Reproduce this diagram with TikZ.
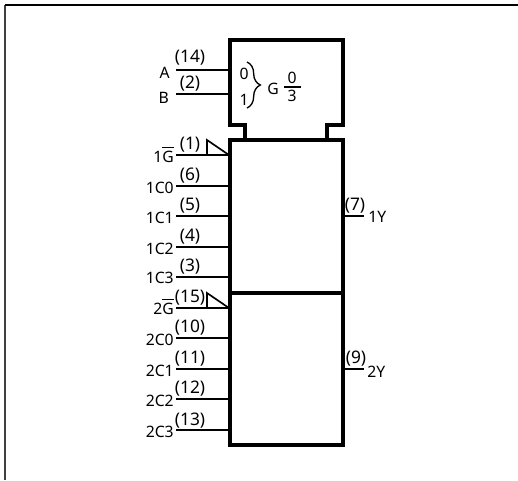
\documentclass[tikz,border=0pt]{standalone}
\usepackage{fontspec}
\setmainfont{Noto Sans}
\usetikzlibrary{decorations.pathreplacing}
\tikzstyle{chipline} = [draw, line width=3pt]
\tikzstyle{pinline} = [draw, line width=1.25pt]
\tikzstyle{pinname} = [font=\fontsize{11.8}{12}\selectfont, inner sep=0pt, anchor=base east]
\tikzstyle{pinnum} = [font=\fontsize{13}{13}\selectfont, inner sep=0pt, anchor=base]
\tikzstyle{seltext} = [font=\fontsize{11.8}{12}\selectfont, inner sep=0pt, anchor=base]
\newcommand{\barG}{$\overline{\mbox{G\rule{0pt}{9.6pt}}}$}
\begin{document}
\begin{tikzpicture}[x=0.75pt,y=-0.75pt]
            \useasboundingbox (0,0) rectangle (518,480);
            % outer frame
            \coordinate (f1) at (5,480);
            \coordinate (f2) at (5,5);
            \coordinate (f3) at (518,5);
            \draw[line width=1.5pt, black!75] (f1) -- (f2);
            \draw[line width=1.5pt] (f2) -- (f3);

            % control block
            \coordinate (g1) at (230,125);
            \coordinate (g2) at (230,40);
            \coordinate (g3) at (343,40);
            \coordinate (g4) at (343,125);
            \coordinate (g5) at (327,125);
            \coordinate (g6) at (327,140);
            \coordinate (g7) at (245,125);
            \coordinate (g8) at (245,140);
            \draw[chipline] (g8) -- (g7) -- (g1) -- (g2) -- (g3) -- (g4) -- (g5) -- (g6);

            % the two sections
            \coordinate (s1) at (230,140);
            \coordinate (s2) at (343,293);
            \coordinate (s4) at (343,445);
            \draw[chipline] (s1) rectangle (s2);
            \draw[chipline] (s2 -| s1) rectangle (s4);

            % left pins
            \foreach \name/\pinlabel/\num/\ypos/\xlab/\ylab/\ynum in {a/A/14/70/170/78/62, b/B/2/94/169/103/88, c/1\barG/1/155/174/162/149, d/1C0/6/186/174/193/180, e/1C1/5/216/174/223/210, f/1C2/4/247/174/254/241, h/1C3/3/277/174/283/271, i/2\barG/15/308/174/314/302, j/2C0/10/338/174/345/332, k/2C1/11/369/174/376/363, l/2C2/12/399/174/406/393, m/2C3/13/430/174/437/425} {
                \coordinate (\name in) at (176,\ypos);
                \coordinate (\name out) at (230,\ypos);
                \draw[pinline] (\name in) -- (\name out);
                \node[pinname] (\name lab) at (\xlab,\ylab) {\pinlabel};
                \node[pinnum] (\name num) at (190,\ynum) {(\num)};
            }

            % active low triangles
            \draw[pinline] (207,155) -- (207,140) -- (229,155);
            \draw[pinline] (207,308) -- (207,293) -- (229,308);

            % right pins
            \coordinate (o1) at (343,216);
            \coordinate (o2) at (364,216);
            \coordinate (o3) at (343,369);
            \coordinate (o4) at (364,369);
            \draw[pinline] (o1) -- (o2);
            \draw[pinline] (o3) -- (o4);
            \node[pinnum] (n7) at (355,210) {(7)};
            \node[pinnum] (n9) at (356,363) {(9)};
            \node[pinname, anchor=base west] (y1) at (368,222) {1Y};
            \node[pinname, anchor=base west] (y2) at (367,377) {2Y};

            % select text
            \node[seltext] (sel0) at (244,79) {0};
            \node[seltext] (sel1) at (244,105) {1};
            \draw[line width=1pt, decorate, decoration={brace, amplitude=10pt}] (247,62) -- (247,108);
            \node[seltext] (gg) at (273,94) {G};
            \node[seltext] (top0) at (292,83) {0};
            \node[seltext] (bot3) at (292,101) {3};
            \draw[pinline] (284,87) -- (301,87);
        \end{tikzpicture}
\end{document}
